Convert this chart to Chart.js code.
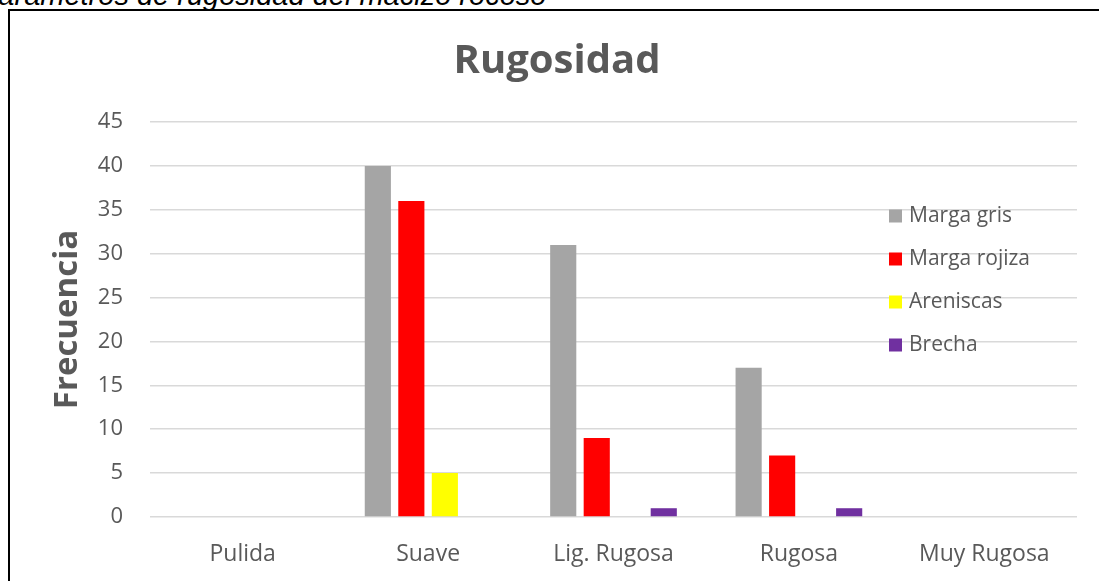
<!DOCTYPE html>
<html lang="es">
<head>
<meta charset="utf-8">
<title>Rugosidad</title>
<script src="https://cdn.jsdelivr.net/npm/chart.js@4.4.1/dist/chart.umd.min.js"></script>
<style>
  html, body { margin: 0; padding: 0; background: #ffffff; overflow: hidden; }
  #wrap { position: relative; width: 1099px; height: 581px; }
  #chart { position: absolute; left: 0; top: 0; }
  #caption {
    position: absolute; left: -21px; top: -19.5px;
    font-family: "Liberation Sans", Arial, sans-serif; font-style: italic;
    font-size: 29px; line-height: 29px; color: #000000; white-space: nowrap;
  }
  #frame {
    position: absolute; left: 8px; top: 9px; width: 1200px; height: 700px;
    border-left: 2px solid #000000; border-top: 2px solid #000000;
    pointer-events: none; box-sizing: border-box;
  }
</style>
</head>
<body>
<div id="wrap">
  <div id="caption">Parámetros de rugosidad del macizo rocoso</div>
  <canvas id="chart" width="1099" height="581"></canvas>
  <div id="frame"></div>
</div>
<script>
// Frequency of joint roughness classes per rock type
const categories = ['Pulida', 'Suave', 'Lig. Rugosa', 'Rugosa', 'Muy Rugosa'];
const margaGris   = [0, 40, 31, 17, 0];
const margaRojiza = [0, 36, 9, 7, 0];
const areniscas   = [0, 5, 0, 0, 0];
const brecha      = [0, 0, 1, 1, 0];
const seriesNames = ['Marga gris', 'Marga rojiza', 'Areniscas', 'Brecha'];
const seriesColors = ['#a5a5a5', '#ff0000', '#ffff00', '#7030a0'];
const chartTitle = 'Rugosidad';

const textColor = '#595959';
const baseFont = '"Open Sans", "Noto Sans", sans-serif';

// Title centred on the framed chart box
const boxTitle = {
  id: 'boxTitle',
  afterDraw(chart) {
    const { ctx } = chart;
    ctx.save();
    ctx.font = 'bold 40px ' + baseFont;
    ctx.fillStyle = textColor;
    ctx.textAlign = 'center';
    ctx.textBaseline = 'alphabetic';
    ctx.fillText(chartTitle, 557, 73);
    ctx.restore();
  }
};

// Legend drawn inside the plot area, to the right
const insideLegend = {
  id: 'insideLegend',
  afterDraw(chart) {
    const { ctx, chartArea } = chart;
    const x0 = chartArea.right - 188;
    const y0 = chartArea.top + 94;
    const step = 43;
    ctx.save();
    ctx.font = '21px ' + baseFont;
    ctx.textBaseline = 'middle';
    ctx.textAlign = 'left';
    chart.data.datasets.forEach((ds, i) => {
      const cy = y0 + i * step;
      ctx.fillStyle = ds.backgroundColor;
      ctx.fillRect(x0, cy - 6.5, 13, 13);
      ctx.fillStyle = textColor;
      ctx.fillText(ds.label, x0 + 20, cy);
    });
    ctx.restore();
  }
};

const seriesValues = [margaGris, margaRojiza, areniscas, brecha];

new Chart(document.getElementById('chart'), {
  type: 'bar',
  data: {
    labels: categories,
    datasets: seriesValues.map((vals, i) => ({
      label: seriesNames[i],
      data: vals,
      backgroundColor: seriesColors[i],
      borderWidth: 0,
      categoryPercentage: 0.723,
      barPercentage: 0.78
    }))
  },
  options: {
    responsive: false,
    animation: false,
    layout: { padding: { left: 0, right: 22, top: 122, bottom: 0 } },
    plugins: {
      legend: { display: false },
      tooltip: { enabled: false },
      title: { display: false }
    },
    scales: {
      x: {
        grid: { display: false, drawTicks: false },
        border: { display: false },
        ticks: {
          color: textColor,
          font: { family: baseFont, size: 23 },
          padding: 24,
          maxRotation: 0
        },
        afterFit(scale) { scale.height = 64; }
      },
      y: {
        min: 0,
        max: 45,
        ticks: {
          stepSize: 5,
          color: textColor,
          font: { family: baseFont, size: 22 },
          padding: 27
        },
        grid: { color: '#d9d9d9', lineWidth: 1.5, drawTicks: false },
        border: { display: false },
        title: {
          display: true,
          text: 'Frecuencia',
          color: textColor,
          font: { family: baseFont, size: 33, weight: 'bold', lineHeight: 1.2 },
          padding: { top: 48, bottom: 0 }
        },
        afterFit(scale) { scale.width = 150; }
      }
    }
  },
  plugins: [boxTitle, insideLegend]
});
</script>
</body>
</html>
